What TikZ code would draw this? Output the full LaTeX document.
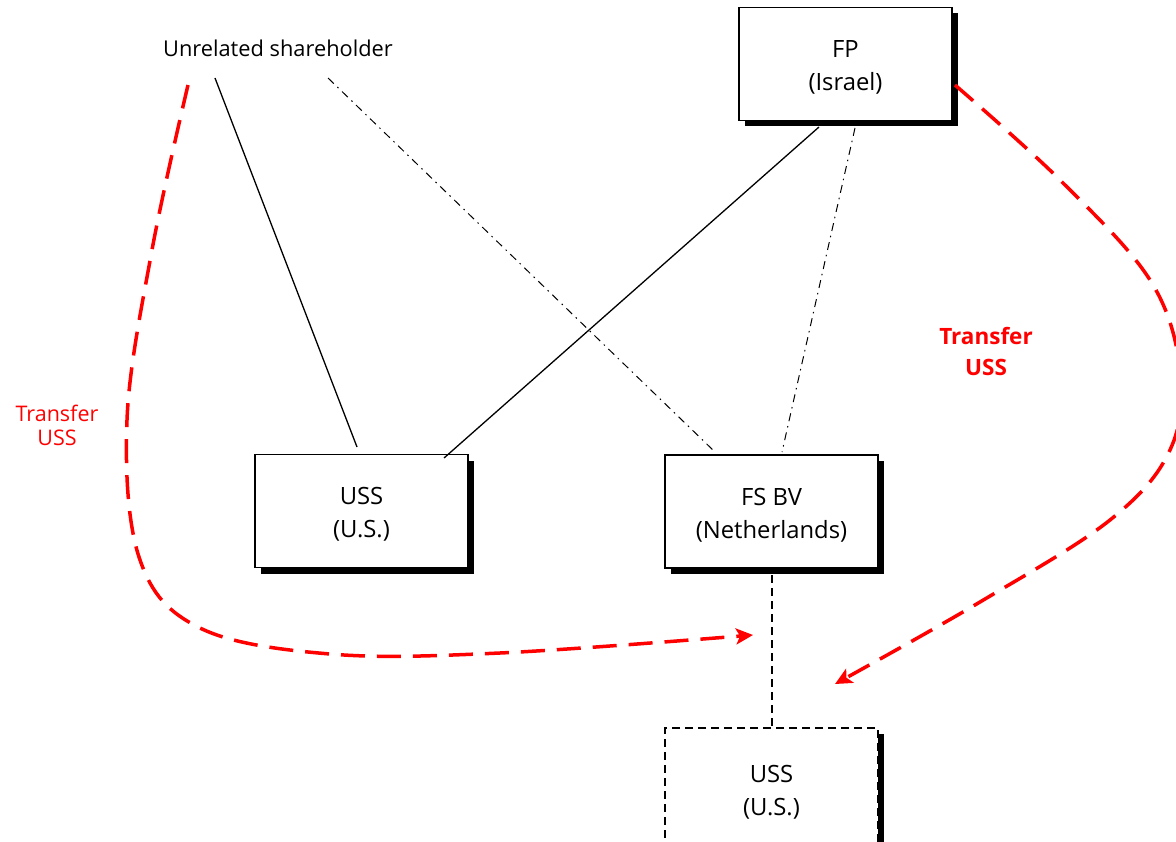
\documentclass[tikz,border=0pt]{standalone}
\usepackage{fontspec}
\setmainfont{Open Sans}
\usetikzlibrary{shadows,arrows.meta}
\definecolor{xred}{RGB}{255,0,0}
% strut that lowers the two-line company labels a little inside their boxes
\newcommand{\toplift}{\rule{0pt}{24pt}}
\begin{document}
\begin{tikzpicture}[x=1pt,y=-1pt,
  entity/.style={draw=black, line width=1.4pt, fill=white, minimum width=213pt,
    minimum height=113pt, align=center, inner sep=0pt,
    font=\fontsize{23.8}{33}\selectfont,
    general shadow={fill=black, shadow xshift=6pt, shadow yshift=-6pt}},
  planned/.style={entity, dash pattern=on 8pt off 5pt},
  own/.style={line width=1.3pt},
  ownalt/.style={line width=1pt, dash pattern=on 8pt off 5pt on 1.5pt off 5pt},
  linkdash/.style={line width=2pt, dash pattern=on 8pt off 5pt},
  move/.style={xred, line width=3.5pt, dash pattern=on 24pt off 12pt,
    -{Stealth[length=17pt,width=16pt,inset=4pt]}},
  movelabel/.style={text=xred, align=center, inner sep=0pt}
]
\useasboundingbox (0,0) rectangle (1176,842);
\clip (0,0) rectangle (1176,842);
\fill[white] (0,0) rectangle (1176,842);

% shareholders and companies
\node (un) at (278,48) {\fontsize{21.8}{24}\selectfont Unrelated shareholder};
\node[entity] (fp) at (845.5,64) {\toplift FP\\(Israel)};
\node[entity] (uss) at (361.5,511) {\toplift USS\\(U.S.)};
\node[entity] (fsbv) at (771.5,511.5) {\toplift FS BV\\(Netherlands)};
\node[planned, minimum height=122pt] (ussnew) at (771.5,789) {\toplift USS\\(U.S.)};

% connector end points
\coordinate (un-a) at (215,78);
\coordinate (un-b) at (328,78);
\coordinate (uss-a) at (357,447);
\coordinate (uss-b) at (444,458);
\coordinate (fp-a) at (819,127);
\coordinate (fp-b) at (855,128);
\coordinate (fsbv-a) at (715,452);
\coordinate (fsbv-b) at (782,452);

% ownership lines
\draw[own] (un-a) -- (uss-a);
\draw[own] (fp-a) -- (uss-b);
\draw[ownalt] (un-b) -- (fsbv-a);
\draw[ownalt] (fp-b) -- (fsbv-b);
\draw[linkdash] (fsbv.south |- 0,575) -- (ussnew.north);

% transfers
\coordinate (tl-start) at (188,85);
\coordinate (tl-end) at (753,635);
\coordinate (tr-start) at (955,85);
\coordinate (tr-end) at (835,684);
\draw[move] plot[smooth, tension=0.6] coordinates
  {(tl-start) (152,250) (127,420) (140,560) (200,628) (330,654) (500,653) (tl-end)};
\draw[move] plot[smooth, tension=0.6] coordinates
  {(tr-start) (1060,180) (1150,280) (1180,370) (1170,450) (1110,520) (980,602) (tr-end)};

\node[movelabel, font=\fontsize{21.5}{24}\selectfont] (tl-label) at (57,425) {Transfer\\USS};
\node[movelabel, font=\bfseries\fontsize{22.5}{31}\selectfont] (tr-label) at (986,352) {Transfer\\USS};
\end{tikzpicture}
\end{document}
